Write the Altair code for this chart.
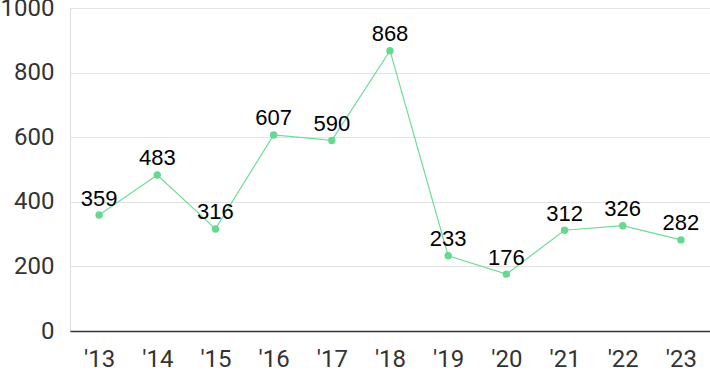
import altair as alt
import pandas as pd

years = ["'13", "'14", "'15", "'16", "'17", "'18", "'19", "'20", "'21", "'22", "'23"]
values = [359, 483, 316, 607, 590, 868, 233, 176, 312, 326, 282]

df = pd.DataFrame({"year": years, "value": values})

x = alt.X("year:N", sort=years, title=None,
          scale=alt.Scale(type="point", padding=0.5),
          axis=alt.Axis(labelAngle=0, labelFont="Roboto", labelFontSize=24, labelColor="#333333",
                        labelPadding=16, ticks=False, domain=True, domainColor="#333333",
                        domainWidth=1.5, grid=False))
y = alt.Y("value:Q", title=None,
          scale=alt.Scale(domain=[0, 1000], nice=False),
          axis=alt.Axis(values=[0, 200, 400, 600, 800, 1000], format="d", labelFont="Roboto",
                        labelFontSize=24, labelColor="#333333", labelPadding=16, ticks=False,
                        domain=False, gridColor="#e3e3e3", gridWidth=1))

base = alt.Chart(df)
line = base.mark_line(color="#6fdd96", strokeWidth=1.2).encode(x=x, y=y)
points = base.mark_circle(color="#66d98e", size=55, opacity=1).encode(x=x, y=y)
labels = base.mark_text(font="Liberation Sans", fontSize=22, color="#000000",
                        baseline="alphabetic", dy=-9.5).encode(x=x, y=y, text="value:Q")

chart = (line + points + labels).properties(
    width=640, height=323,
    autosize=alt.AutoSizeParams(type="none"),
    padding={"left": 70, "top": 8, "right": 0, "bottom": 40},
).configure_view(stroke=None).configure(background="white")

chart.save("out.html", embed_options={"renderer": "svg", "actions": False})
